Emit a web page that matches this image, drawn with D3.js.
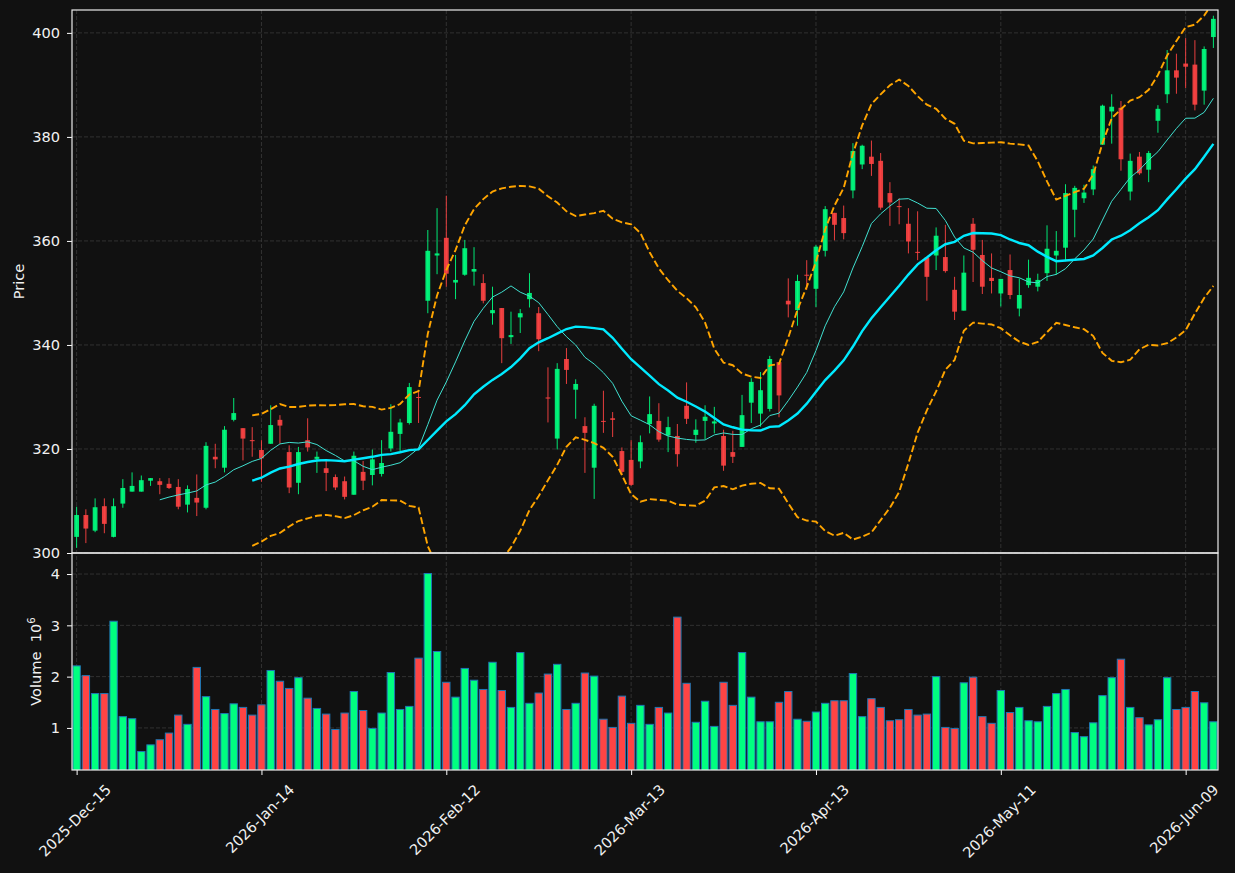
<!DOCTYPE html>
<html>
<head>
<meta charset="utf-8">
<script src="https://cdn.jsdelivr.net/npm/d3@7"></script>
<style>
  body { margin: 0; background: #111111; }
  svg { display: block; font-family: "DejaVu Sans", sans-serif; }
</style>
</head>
<body>
<div id="chart"></div>
<script>
// daily OHLC (index 0 = 2025-12-15)
const opens = [303.1,307.3,304.3,309.0,303.1,309.5,311.8,311.8,313.9,313.8,313.3,312.7,309.3,310.6,308.7,318.5,316.4,325.6,324.0,321.7,
  319.8,321.0,325.6,319.4,313.5,321.7,318.1,316.3,314.6,313.8,311.2,315.6,315.0,315.2,320.1,322.9,325.0,330.0,348.5,357.2,
  360.6,352.0,353.5,354.1,351.9,346.1,347.1,341.5,345.3,348.8,346.1,329.9,322.0,337.3,331.4,324.4,316.4,325.4,325.9,319.6,
  317.9,317.6,324.8,325.4,322.6,322.5,328.3,322.7,325.4,324.9,322.5,319.4,320.4,328.9,326.8,327.7,336.7,348.5,346.7,353.5,
  350.8,358.1,365.4,364.4,369.7,374.7,376.2,375.4,369.2,366.7,363.3,357.9,356.8,357.2,356.9,350.6,346.6,363.3,357.3,352.9,
  349.9,354.4,347.0,351.5,351.2,353.8,357.2,358.7,366.0,368.2,369.9,378.5,384.9,385.6,369.5,376.2,373.7,383.1,388.2,392.8,
  394.1,393.9,388.9,399.2];
const highs = [308.9,308.4,310.5,310.5,310.5,314.2,315.5,314.9,314.4,314.4,314.4,314.2,313.0,315.1,321.3,321.0,324.4,329.8,324.0,324.2,
  321.7,328.4,326.5,320.7,320.4,325.9,319.5,317.7,315.1,314.7,319.5,317.7,319.9,321.7,328.6,325.8,332.7,331.0,362.1,366.3,
  368.7,357.3,360.2,358.8,353.6,351.2,347.1,346.4,346.9,353.8,347.3,335.7,336.5,339.4,333.4,326.1,328.7,331.2,327.1,320.3,
  321.7,322.6,330.1,328.8,326.2,324.8,332.8,325.7,328.4,328.1,323.7,323.5,330.4,333.6,334.8,337.9,336.7,352.8,353.5,356.3,
  359.2,366.7,365.4,366.8,378.8,378.5,379.3,376.9,371.3,368.2,366.3,365.7,356.8,362.6,363.1,353.1,357.2,364.4,360.2,357.6,
  352.7,357.4,352.8,356.4,353.7,363.0,361.9,370.9,370.6,370.8,374.5,386.2,388.2,386.9,376.8,377.1,377.3,386.1,396.7,396.0,
  399.0,398.6,397.4,403.3];
const lows = [301.0,301.9,304.0,303.8,303.0,308.7,311.8,311.8,312.9,311.3,312.3,308.4,307.8,307.1,308.4,316.3,315.5,325.3,317.8,318.5,
  313.7,321.0,321.0,311.5,311.3,319.5,315.4,311.9,312.1,310.3,311.2,312.1,313.0,314.7,319.5,319.5,324.7,325.0,346.1,353.6,
  351.2,348.8,353.3,351.4,348.0,343.9,336.5,340.2,342.3,347.2,338.8,325.1,319.9,332.5,325.8,315.4,310.4,323.1,322.3,315.0,
  312.9,316.3,323.0,321.4,319.4,316.6,324.8,321.2,321.9,323.0,315.8,317.3,320.4,325.0,324.3,327.2,326.1,345.3,343.7,350.6,
  347.3,357.0,360.1,360.3,368.2,373.8,372.5,366.0,362.9,363.2,357.6,356.3,348.5,354.4,353.9,344.8,346.6,352.1,349.8,349.9,
  347.4,348.8,345.5,351.0,350.3,352.3,353.5,356.1,360.7,367.3,368.8,378.5,378.7,373.5,367.8,372.7,371.3,380.8,386.5,388.3,
  389.4,385.1,386.2,397.1];
const closes = [307.3,304.7,308.8,305.6,309.0,312.5,312.9,314.0,314.4,313.1,312.5,308.9,312.3,309.7,320.6,318.0,323.7,326.9,322.0,321.5,
  318.2,324.6,324.5,312.6,319.4,320.3,318.5,315.4,312.6,310.8,318.7,313.9,318.0,317.3,323.3,325.1,331.9,329.9,358.1,357.6,
  353.7,352.5,358.6,354.6,348.5,346.7,341.3,341.9,346.1,350.0,341.1,329.7,335.4,335.2,332.5,323.1,328.3,325.3,325.6,315.6,
  313.1,321.3,326.7,321.8,324.2,319.0,325.8,323.7,326.2,325.3,316.8,318.5,326.5,332.9,331.3,337.3,330.3,347.8,352.3,353.4,
  358.9,366.1,363.1,361.5,377.3,378.3,374.8,366.4,367.4,366.5,359.9,357.7,353.1,361.0,354.2,346.4,353.9,358.3,351.2,352.3,
  352.7,349.6,349.6,352.9,352.5,358.5,358.1,369.2,370.2,369.3,373.8,386.0,385.8,375.7,375.4,373.0,376.9,385.4,392.8,391.4,
  393.5,386.2,396.9,402.7];
// volume in millions of shares
const volumes = [2.21,2.02,1.67,1.67,3.08,1.22,1.18,0.54,0.67,0.77,0.90,1.25,1.07,2.18,1.61,1.36,1.28,1.47,1.40,1.25,
  1.45,2.12,1.91,1.77,1.98,1.58,1.38,1.27,0.97,1.29,1.71,1.34,0.99,1.29,2.08,1.36,1.42,2.36,4.01,2.49,
  1.89,1.60,2.16,1.93,1.75,2.28,1.73,1.40,2.47,1.48,1.68,2.05,2.24,1.36,1.48,2.07,2.01,1.17,1.01,1.62,
  1.09,1.44,1.07,1.40,1.29,3.16,1.87,1.11,1.52,1.03,1.89,1.44,2.47,1.60,1.12,1.12,1.50,1.71,1.17,1.13,
  1.31,1.48,1.53,1.53,2.06,1.22,1.57,1.40,1.14,1.16,1.36,1.25,1.27,2.00,1.01,0.99,1.88,1.99,1.22,1.09,
  1.73,1.30,1.40,1.14,1.12,1.42,1.67,1.75,0.91,0.83,1.10,1.63,1.98,2.34,1.40,1.20,1.06,1.16,1.98,1.36,
  1.40,1.71,1.49,1.12];

const tickIdx = [0, 20, 40, 60, 80, 100, 120];
const tickLabels = ['2025-Dec-15', '2026-Jan-14', '2026-Feb-12', '2026-Mar-13', '2026-Apr-13', '2026-May-11', '2026-Jun-09'];
const priceTicks = [300, 320, 340, 360, 380, 400];
const volTicks = [1, 2, 3, 4];

const W = 1235, H = 873;
const L = 72, R = 1218, pTop = 10, pBot = 553, vTop = 553, vBot = 770;
const FS = 14.6;
const up = '#00ff80', down = '#ff4444';
const n = closes.length;

const x = d3.scaleLinear().domain([-0.5, n - 0.5]).range([L, R]);
const step = x(1) - x(0);
const yP = d3.scaleLinear().domain([300, 404.4]).range([pBot, pTop]);
const yV = d3.scaleLinear().domain([0.18, 4.41]).range([vBot, vTop]);

// moving averages + bollinger (20, 2)
function rolling(arr, win, f) {
  return arr.map((_, i) => i < win - 1 ? null : f(arr.slice(i - win + 1, i + 1)));
}
const ma10 = rolling(closes, 10, d3.mean);
const ma20 = rolling(closes, 20, d3.mean);
const sd20 = rolling(closes, 20, d3.deviation);
const bbUp = ma20.map((m, i) => m == null ? null : m + 2 * sd20[i]);
const bbLo = ma20.map((m, i) => m == null ? null : m - 2 * sd20[i]);

const svg = d3.select('#chart').append('svg').attr('width', W).attr('height', H);
svg.append('rect').attr('width', W).attr('height', H).attr('fill', '#111111');

const defs = svg.append('defs');
defs.append('clipPath').attr('id', 'clipP').append('rect')
  .attr('x', L).attr('y', pTop).attr('width', R - L).attr('height', pBot - pTop);
defs.append('clipPath').attr('id', 'clipV').append('rect')
  .attr('x', L).attr('y', vTop).attr('width', R - L).attr('height', vBot - vTop);

// grid
const grid = svg.append('g').attr('stroke', '#3a3a3a').attr('stroke-width', 0.8).attr('stroke-dasharray', '4,2');
tickIdx.forEach(i => {
  grid.append('line').attr('x1', x(i)).attr('x2', x(i)).attr('y1', pTop).attr('y2', vBot);
});
priceTicks.forEach(v => {
  grid.append('line').attr('x1', L).attr('x2', R).attr('y1', yP(v)).attr('y2', yP(v));
});
volTicks.forEach(v => {
  grid.append('line').attr('x1', L).attr('x2', R).attr('y1', yV(v)).attr('y2', yV(v));
});

// candles
const pg = svg.append('g').attr('clip-path', 'url(#clipP)');
const idx = d3.range(n);
const col = i => closes[i] >= opens[i] ? up : down;
pg.selectAll('line.wick').data(idx).join('line')
  .attr('class', 'wick')
  .attr('x1', i => x(i)).attr('x2', i => x(i))
  .attr('y1', i => yP(highs[i])).attr('y2', i => yP(lows[i]))
  .attr('stroke', col).attr('stroke-width', 1).attr('opacity', 0.9);
pg.selectAll('rect.body').data(idx).join('rect')
  .attr('class', 'body')
  .attr('x', i => x(i) - step * 0.26)
  .attr('width', step * 0.52)
  .attr('y', i => yP(Math.max(opens[i], closes[i])))
  .attr('height', i => Math.max(1, Math.abs(yP(opens[i]) - yP(closes[i]))))
  .attr('fill', col).attr('opacity', 0.9);

// indicator lines
const line = d3.line().defined(d => d[1] != null).x(d => x(d[0])).y(d => yP(d[1]));
const asPts = arr => arr.map((v, i) => [i, v]);
pg.append('path').attr('d', line(asPts(bbUp))).attr('fill', 'none')
  .attr('stroke', '#ffa500').attr('stroke-width', 1.9).attr('stroke-dasharray', '7,3');
pg.append('path').attr('d', line(asPts(bbLo))).attr('fill', 'none')
  .attr('stroke', '#ffa500').attr('stroke-width', 1.9).attr('stroke-dasharray', '7,3');
pg.append('path').attr('d', line(asPts(ma10))).attr('fill', 'none')
  .attr('stroke', '#40e0d0').attr('stroke-width', 1);
pg.append('path').attr('d', line(asPts(ma20))).attr('fill', 'none')
  .attr('stroke', '#00eaff').attr('stroke-width', 2.4);

// volume bars
const vg = svg.append('g').attr('clip-path', 'url(#clipV)');
vg.selectAll('rect').data(idx).join('rect')
  .attr('x', i => x(i) - step * 0.4)
  .attr('width', step * 0.8)
  .attr('y', i => yV(volumes[i]))
  .attr('height', i => vBot + 5 - yV(volumes[i]))
  .attr('fill', col)
  .attr('stroke', '#1f77b4').attr('stroke-width', 1);

// axes
function styleAxis(g) {
  g.select('.domain').remove();
  g.selectAll('.tick line').attr('stroke', '#ffffff');
  g.selectAll('.tick text').attr('fill', '#f0f0f0').style('font-size', FS + 'px')
    .style('font-family', '"DejaVu Sans", sans-serif');
}
svg.append('g').attr('transform', `translate(${L},0)`)
  .call(d3.axisLeft(yP).tickValues(priceTicks).tickSize(5).tickPadding(7))
  .call(styleAxis);
svg.append('g').attr('transform', `translate(${L},0)`)
  .call(d3.axisLeft(yV).tickValues(volTicks).tickSize(5).tickPadding(7).tickFormat(d3.format('d')))
  .call(styleAxis);

const xa = svg.append('g').attr('transform', `translate(0,${vBot})`)
  .call(d3.axisBottom(x).tickValues(tickIdx).tickSize(5).tickFormat((d, k) => tickLabels[k]))
  .call(styleAxis);
xa.selectAll('.tick text').each(function () {
  const t = d3.select(this);
  const w = this.getComputedTextLength();
  const half = (w + FS) * 0.7071 / 2;
  t.attr('y', null).attr('dy', '0.35em').attr('text-anchor', 'middle')
    .attr('transform', `translate(-2,${12 + half}) rotate(-45)`);
});

// frames
const frame = svg.append('g').attr('fill', 'none').attr('stroke', '#ececec').attr('stroke-width', 1.2);
frame.append('rect').attr('x', L).attr('y', pTop).attr('width', R - L).attr('height', pBot - pTop);
frame.append('rect').attr('x', L).attr('y', vTop).attr('width', R - L).attr('height', vBot - vTop);

// axis labels
svg.append('text').attr('transform', `translate(24,${(pTop + pBot) / 2}) rotate(-90)`)
  .attr('text-anchor', 'middle').attr('fill', '#f0f0f0').style('font-size', FS + 'px')
  .text('Price');
const vl = svg.append('text').attr('transform', `translate(41,${(vTop + vBot) / 2}) rotate(-90)`)
  .attr('text-anchor', 'middle').attr('fill', '#f0f0f0').style('font-size', FS + 'px')
  .style('white-space', 'pre');
vl.append('tspan').text('Volume  10');
vl.append('tspan').attr('dy', -6).style('font-size', (FS * 0.7) + 'px').text('6');
</script>
</body>
</html>
